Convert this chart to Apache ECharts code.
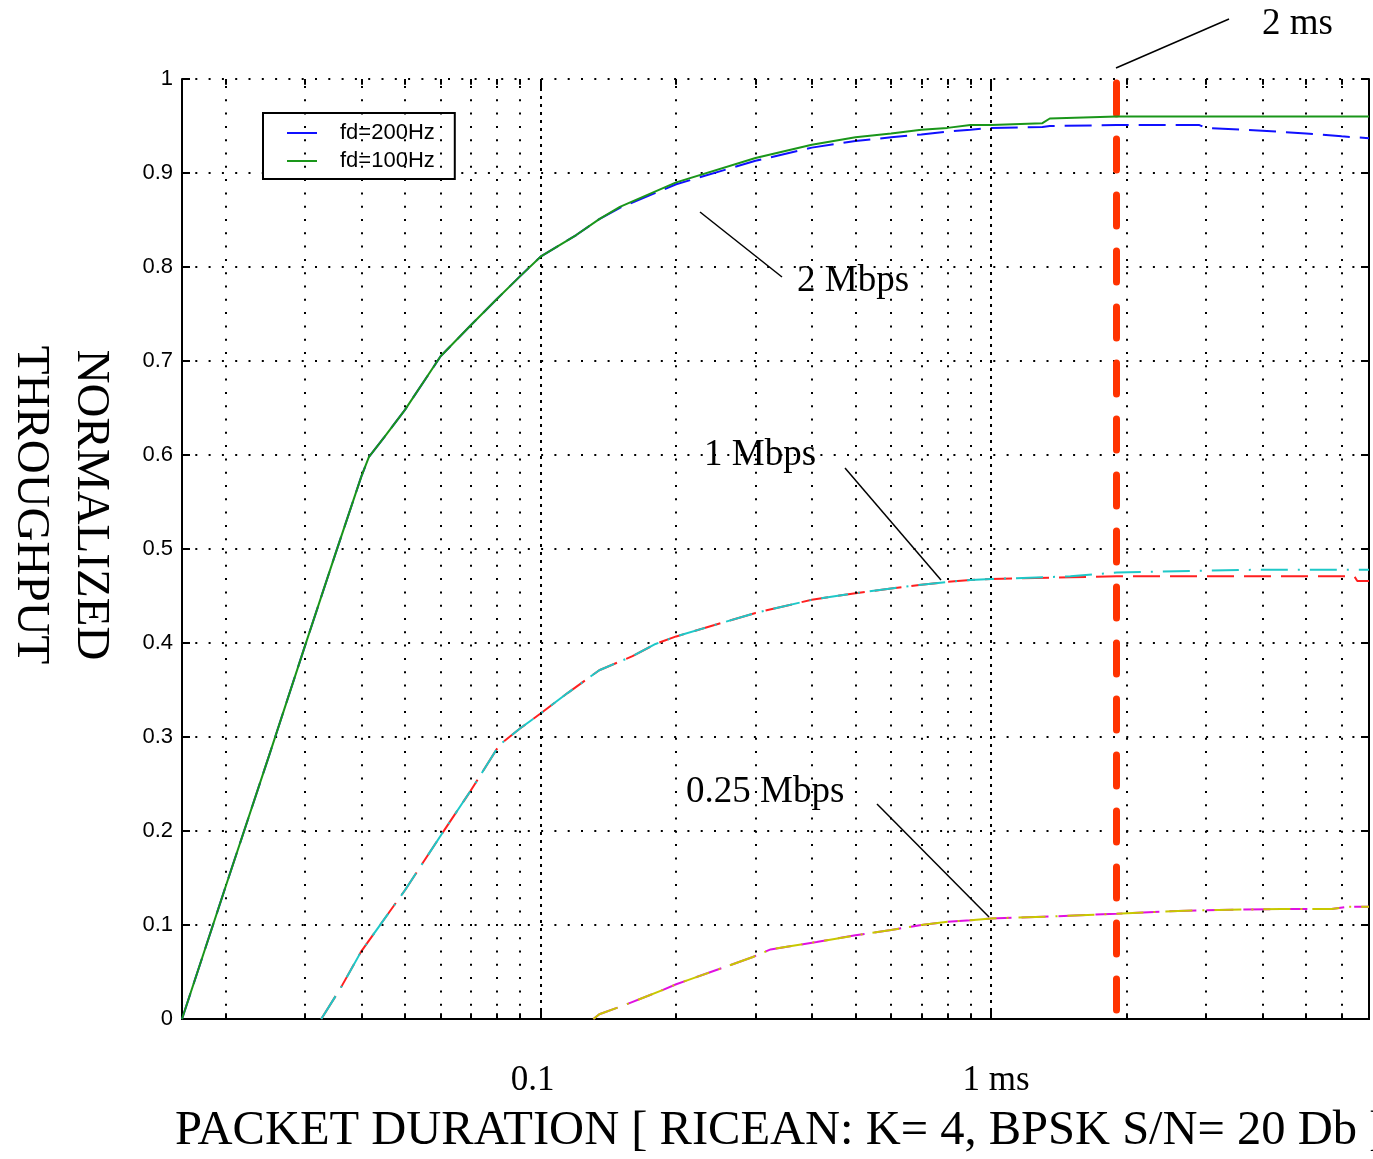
<!DOCTYPE html>
<html>
<head>
<meta charset="utf-8">
<title>Normalized throughput vs packet duration</title>
<script src="https://cdn.jsdelivr.net/npm/echarts@6/dist/echarts.min.js"></script>
<style>
  html, body { margin: 0; padding: 0; background: #fff; }
  #chart { width: 1373px; height: 1159px; }
</style>
</head>
<body>
<div id="chart"></div>
<script>
// packet duration (ms) on a log axis, normalized throughput
let xMin = 0.016;
let xMax = 6.9;

// 2 Mbps
let dur2M = [0.016, 0.02, 0.025, 0.03, 0.035, 0.04, 0.0416, 0.045, 0.05, 0.06, 0.07, 0.08, 0.09, 0.1,
    0.12, 0.135, 0.15, 0.2, 0.3, 0.4, 0.5, 0.6, 0.7, 0.8, 0.9, 1, 1.3, 1.35, 1.9, 2.9, 3, 4, 5, 6, 6.9];
let thr2M100 = [0, 0.141, 0.281, 0.397, 0.494, 0.577, 0.598, 0.619, 0.648, 0.705, 0.738, 0.766, 0.79, 0.811,
    0.834, 0.851, 0.864, 0.89, 0.916, 0.93, 0.938, 0.942, 0.946, 0.948, 0.951, 0.951, 0.953, 0.958, 0.96, 0.96, 0.96, 0.96, 0.96, 0.96, 0.96];
let thr2M200 = [0, 0.141, 0.281, 0.397, 0.494, 0.577, 0.598, 0.619, 0.648, 0.705, 0.738, 0.766, 0.79, 0.811,
    0.834, 0.851, 0.863, 0.888, 0.913, 0.927, 0.934, 0.938, 0.941, 0.944, 0.946, 0.948, 0.949, 0.95, 0.951, 0.951, 0.948, 0.945, 0.942, 0.939, 0.937];

// 1 Mbps
let dur1M = [0.0326, 0.036, 0.04, 0.05, 0.06, 0.07, 0.081, 0.09, 0.1, 0.115, 0.135, 0.16, 0.18, 0.2,
    0.3, 0.4, 0.5, 0.6, 0.7, 0.8, 0.9, 1, 1.5, 1.9, 3, 4, 5, 6.4, 6.5, 6.9];
let thr1M100 = [0, 0.033, 0.072, 0.137, 0.195, 0.243, 0.2915, 0.309, 0.325, 0.347, 0.371, 0.386, 0.399, 0.407,
    0.432, 0.446, 0.453, 0.458, 0.462, 0.465, 0.467, 0.468, 0.471, 0.475, 0.477, 0.478, 0.478, 0.478, 0.478, 0.478];
let thr1M200 = [0, 0.033, 0.072, 0.137, 0.195, 0.243, 0.2915, 0.309, 0.325, 0.347, 0.371, 0.386, 0.399, 0.407,
    0.432, 0.446, 0.453, 0.458, 0.462, 0.465, 0.467, 0.468, 0.47, 0.471, 0.471, 0.471, 0.471, 0.471, 0.466, 0.466];

// 0.25 Mbps
let durQ = [0.131, 0.135, 0.154, 0.187, 0.2, 0.268, 0.296, 0.324, 0.41, 0.5, 0.6, 0.7, 0.8, 0.9, 1,
    1.35, 1.9, 2.6, 3.2, 4.4, 5.7, 6.2, 6.9];
let thrQ = [0, 0.005, 0.015, 0.031, 0.037, 0.0585, 0.066, 0.074, 0.082, 0.089, 0.0947, 0.1, 0.1035, 0.105, 0.107,
    0.109, 0.112, 0.115, 0.116, 0.117, 0.117, 0.1195, 0.1195];

// 2 ms marker
let markerDur = 1.9;

// grid positions (log decades)
let majorX = [0.1, 1];
let minorX = [];
[0.01, 0.1, 1].forEach(function (d) {
    for (let k = 2; k <= 9; k++) {
        let v = +(k * d).toPrecision(3);
        if (v > xMin && v < xMax) minorX.push(v);
    }
});

function pairs(xs, ys) {
    return xs.map(function (x, i) { return [x, ys[i]]; });
}

function tickLines(vals, len) {
    let out = [];
    vals.forEach(function (v) {
        out.push([{ coord: [v, 0] }, { coord: [v, len] }]);
        out.push([{ coord: [v, 1] }, { coord: [v, 1 - len] }]);
    });
    return out;
}

let serif = 'Liberation Serif';
let sans = 'Liberation Sans';

let myChart = echarts.init(document.getElementById('chart'));

let option = {
    animation: false,
    backgroundColor: '#fff',
    grid: { left: 182, right: 4, top: 79, bottom: 140 },
    legend: {
        data: ['fd=200Hz', 'fd=100Hz'],
        orient: 'vertical',
        left: 263,
        top: 113,
        padding: [9, 20, 7, 24],
        icon: 'rect',
        itemWidth: 30,
        itemHeight: 2,
        itemGap: 6,
        borderColor: '#000',
        borderWidth: 2,
        backgroundColor: '#fff',
        textStyle: { fontFamily: sans, fontSize: 22, color: '#000', padding: [0, 0, 0, 18] }
    },
    xAxis: [
        {
            type: 'log',
            logBase: 10,
            min: xMin,
            max: xMax,
            position: 'bottom',
            axisLine: { lineStyle: { color: '#000', width: 2 } },
            axisTick: { show: false },
            splitLine: { show: false },
            axisLabel: {
                margin: 44,
                color: '#000',
                formatter: function (v) {
                    let l = Math.log10(v);
                    if (Math.abs(l + 1) < 1e-6) return '{a|0.1}';
                    if (Math.abs(l) < 1e-6) return '{b|1 ms}';
                    return '';
                },
                rich: {
                    a: { fontFamily: serif, fontSize: 35, color: '#000', padding: [0, 16, 0, 0] },
                    b: { fontFamily: serif, fontSize: 35, color: '#000', padding: [0, 0, 0, 10] }
                }
            }
        },
        {
            type: 'log',
            logBase: 10,
            min: xMin,
            max: xMax,
            position: 'top',
            axisLine: { lineStyle: { color: '#000', width: 2 } },
            axisTick: { show: false },
            axisLabel: { show: false },
            splitLine: { show: false }
        }
    ],
    yAxis: [
        {
            type: 'value',
            min: 0,
            max: 1,
            interval: 0.1,
            position: 'left',
            axisLine: { show: true, lineStyle: { color: '#000', width: 2 } },
            axisTick: { show: true, inside: true, length: 8, lineStyle: { color: '#000', width: 2 } },
            axisLabel: { margin: 9, fontFamily: sans, fontSize: 22, color: '#000' },
            splitLine: { show: true, lineStyle: { color: '#000', width: 2, type: [2, 11.3] } }
        },
        {
            type: 'value',
            min: 0,
            max: 1,
            interval: 0.1,
            position: 'right',
            axisLine: { show: true, lineStyle: { color: '#000', width: 2 } },
            axisTick: { show: true, inside: true, length: 8, lineStyle: { color: '#000', width: 2 } },
            axisLabel: { show: false },
            splitLine: { show: false }
        }
    ],
    series: [
        {
            name: 'grid',
            type: 'line',
            data: [],
            silent: true,
            z: 1,
            markLine: {
                silent: true,
                symbol: 'none',
                label: { show: false },
                data: minorX.map(function (v) { return { xAxis: v }; }),
                lineStyle: { color: '#000', width: 2, type: [2, 11.3] }
            }
        },
        {
            name: 'grid major',
            type: 'line',
            data: [],
            silent: true,
            z: 1,
            markLine: {
                silent: true,
                symbol: 'none',
                label: { show: false },
                data: majorX.map(function (v) { return { xAxis: v }; }),
                lineStyle: { color: '#000', width: 2, type: [3, 5] }
            }
        },
        {
            name: 'ticks',
            type: 'line',
            data: [],
            silent: true,
            z: 3,
            markLine: {
                silent: true,
                symbol: 'none',
                label: { show: false },
                data: tickLines(minorX, 0.006).concat(tickLines(majorX, 0.01)),
                lineStyle: { color: '#000', width: 2, type: 'solid' }
            }
        },
        {
            name: 'fd=200Hz',
            type: 'line',
            data: pairs(dur2M, thr2M200),
            symbol: 'none',
            z: 4,
            lineStyle: { color: '#1010ff', width: 2, type: [27, 10] },
            itemStyle: { color: '#1010ff' }
        },
        {
            name: 'fd=100Hz',
            type: 'line',
            data: pairs(dur2M, thr2M100),
            symbol: 'none',
            z: 5,
            lineStyle: { color: '#1a961a', width: 2 },
            itemStyle: { color: '#1a961a' }
        },
        {
            name: '1 Mbps fd=200Hz',
            type: 'line',
            data: pairs(dur1M, thr1M200),
            symbol: 'none',
            z: 4,
            lineStyle: { color: '#ff2020', width: 2, type: [27, 10] }
        },
        {
            name: '1 Mbps fd=100Hz',
            type: 'line',
            data: pairs(dur1M, thr1M100),
            symbol: 'none',
            z: 5,
            lineStyle: { color: '#1ec8c8', width: 2, type: [27, 10, 2, 10] }
        },
        {
            name: '0.25 Mbps fd=200Hz',
            type: 'line',
            data: pairs(durQ, thrQ),
            symbol: 'none',
            z: 4,
            lineStyle: { color: '#e010e0', width: 2, type: [27, 10] }
        },
        {
            name: '0.25 Mbps fd=100Hz',
            type: 'line',
            data: pairs(durQ, thrQ),
            symbol: 'none',
            z: 5,
            lineStyle: { color: '#c8c800', width: 2, type: [27, 10, 2, 10] }
        },
        {
            name: '2 ms',
            type: 'line',
            data: [],
            silent: true,
            z: 8,
            markLine: {
                silent: true,
                symbol: 'none',
                label: { show: false },
                data: [[{ coord: [markerDur, 1] }, { coord: [markerDur, 0] }]],
                lineStyle: { color: '#ff3300', width: 7, type: [31, 25], dashOffset: -4, cap: 'round' }
            }
        }
    ],
    graphic: [
        {
            type: 'text', left: 175, top: 1107, z: 10,
            style: { text: 'PACKET DURATION [ RICEAN: K= 4, BPSK S/N= 20 Db ]', font: '48.5px ' + serif, fill: '#000' }
        },
        {
            type: 'text', x: 60, y: 505, rotation: -Math.PI / 2, z: 10,
            style: { text: 'NORMALIZED\nTHROUGHPUT', font: '47px ' + serif, fill: '#000',
                align: 'center', verticalAlign: 'middle', lineHeight: 60 }
        },
        // annotations
        { type: 'text', x: 797, y: 281, z: 10,
            style: { text: '2 Mbps', font: '37px ' + serif, fill: '#000', verticalAlign: 'middle' } },
        { type: 'line', z: 10, shape: { x1: 700, y1: 212, x2: 782, y2: 277 }, style: { stroke: '#000', lineWidth: 1.5 } },
        { type: 'text', x: 704, y: 455, z: 10,
            style: { text: '1 Mbps', font: '37px ' + serif, fill: '#000', verticalAlign: 'middle' } },
        { type: 'line', z: 10, shape: { x1: 845, y1: 468, x2: 941, y2: 580 }, style: { stroke: '#000', lineWidth: 1.5 } },
        { type: 'text', x: 686, y: 792, z: 10,
            style: { text: '0.25 Mbps', font: '37px ' + serif, fill: '#000', verticalAlign: 'middle' } },
        { type: 'line', z: 10, shape: { x1: 877, y1: 804, x2: 989, y2: 917 }, style: { stroke: '#000', lineWidth: 1.5 } },
        { type: 'text', x: 1262, y: 24, z: 10,
            style: { text: '2 ms', font: '37px ' + serif, fill: '#000', verticalAlign: 'middle' } },
        { type: 'line', z: 10, shape: { x1: 1229, y1: 19, x2: 1116, y2: 68 }, style: { stroke: '#000', lineWidth: 1.5 } }
    ]
};

myChart.setOption(option);
</script>
</body>
</html>
